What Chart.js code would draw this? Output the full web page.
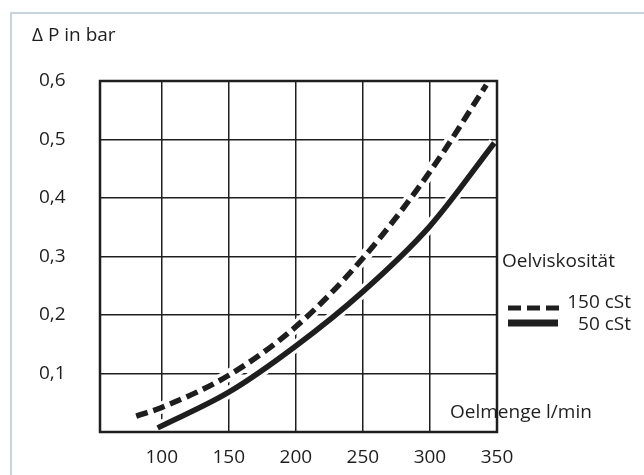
<!DOCTYPE html>
<html>
<head>
<meta charset="utf-8">
<script src="https://cdn.jsdelivr.net/npm/chart.js@4/dist/chart.umd.min.js"></script>
<style>
  html, body { margin: 0; padding: 0; background: #fff; }
  #chart { display: block; }
</style>
</head>
<body>
<canvas id="chart" width="644" height="475"></canvas>
<script>
const flow150 = [81, 100, 150, 200, 250, 300, 342];
const dp150 = [0.027, 0.042, 0.097, 0.180, 0.297, 0.445, 0.593];
const flow50 = [97, 150, 200, 250, 300, 348];
const dp50 = [0.007, 0.068, 0.147, 0.240, 0.352, 0.494];

const xTicks = [100, 150, 200, 250, 300, 350];
const yTicks = [0.1, 0.2, 0.3, 0.4, 0.5, 0.6];

const ink = "#1e1e1e";
const font = "Open Sans";

function points(xs, ys) {
  return xs.map((x, i) => ({ x: x, y: ys[i] }));
}

// outer frame, title, axis caption and legend
const decor = {
  id: "decor",
  beforeDraw(chart) {
    const c = chart.ctx;
    c.save();
    c.strokeStyle = "#b4c5d8";
    c.lineWidth = 1.5;
    c.beginPath();
    c.moveTo(644, 13);
    c.lineTo(11, 13);
    c.lineTo(11, 475);
    c.stroke();
    c.restore();
  },
  afterDatasetsDraw(chart) {
    const c = chart.ctx;
    const a = chart.chartArea;
    c.save();
    c.strokeStyle = ink;
    c.lineWidth = 2.5;
    c.strokeRect(a.left, a.top, a.right - a.left, a.bottom - a.top);

    c.fillStyle = ink;
    c.font = "19px '" + font + "'";
    c.textBaseline = "middle";
    c.textAlign = "left";
    c.fillText("\u0394 P in bar", 32, 36);
    c.fillText("Oelmenge l/min", 450, 413);
    c.fillText("Oelviskosit\u00e4t", 502, 262);

    c.textAlign = "right";
    c.fillText("150 cSt", 631, 303);
    c.fillText("50 cSt", 631, 325);

    c.lineWidth = 5;
    c.setLineDash([13, 6]);
    c.beginPath();
    c.moveTo(508, 308);
    c.lineTo(559, 308);
    c.stroke();

    c.setLineDash([]);
    c.lineWidth = 7;
    c.beginPath();
    c.moveTo(508, 323);
    c.lineTo(558, 323);
    c.stroke();
    c.restore();
  }
};

new Chart(document.getElementById("chart"), {
  type: "line",
  data: {
    datasets: [
      {
        label: "150 cSt",
        data: points(flow150, dp150),
        borderColor: ink,
        borderWidth: 5.5,
        borderDash: [12, 6],
        cubicInterpolationMode: "monotone",
        pointRadius: 0,
        order: 1
      },
      {
        label: "50 cSt",
        data: points(flow50, dp50),
        borderColor: ink,
        borderWidth: 5.5,
        cubicInterpolationMode: "monotone",
        pointRadius: 0,
        order: 1
      },
      {
        data: points(flow150, dp150),
        borderColor: "#fff",
        borderWidth: 12,
        cubicInterpolationMode: "monotone",
        pointRadius: 0,
        order: 2
      },
      {
        data: points(flow50, dp50),
        borderColor: "#fff",
        borderWidth: 12,
        cubicInterpolationMode: "monotone",
        pointRadius: 0,
        order: 2
      }
    ]
  },
  options: {
    responsive: false,
    animation: false,
    events: [],
    layout: {
      padding: { left: 39, top: 81, right: 147, bottom: 0 }
    },
    plugins: {
      legend: { display: false },
      tooltip: { enabled: false }
    },
    scales: {
      x: {
        type: "linear",
        min: 54,
        max: 350,
        afterBuildTicks(scale) {
          scale.ticks = xTicks.map(v => ({ value: v }));
        },
        afterFit(scale) {
          scale.height = 43;
        },
        border: { display: false },
        grid: { color: ink, lineWidth: 1.5, drawTicks: false },
        ticks: {
          color: ink,
          font: { family: font, size: 19 },
          padding: 14,
          maxRotation: 0
        }
      },
      y: {
        min: 0,
        max: 0.6,
        afterBuildTicks(scale) {
          scale.ticks = yTicks.map(v => ({ value: v }));
        },
        afterFit(scale) {
          scale.width = 61;
        },
        border: { display: false },
        grid: { color: ink, lineWidth: 1.5, drawTicks: false },
        ticks: {
          color: ink,
          crossAlign: "far",
          font: { family: font, size: 19 },
          callback: v => v.toFixed(1).replace(".", ",")
        }
      }
    }
  },
  plugins: [decor]
});
</script>
</body>
</html>
